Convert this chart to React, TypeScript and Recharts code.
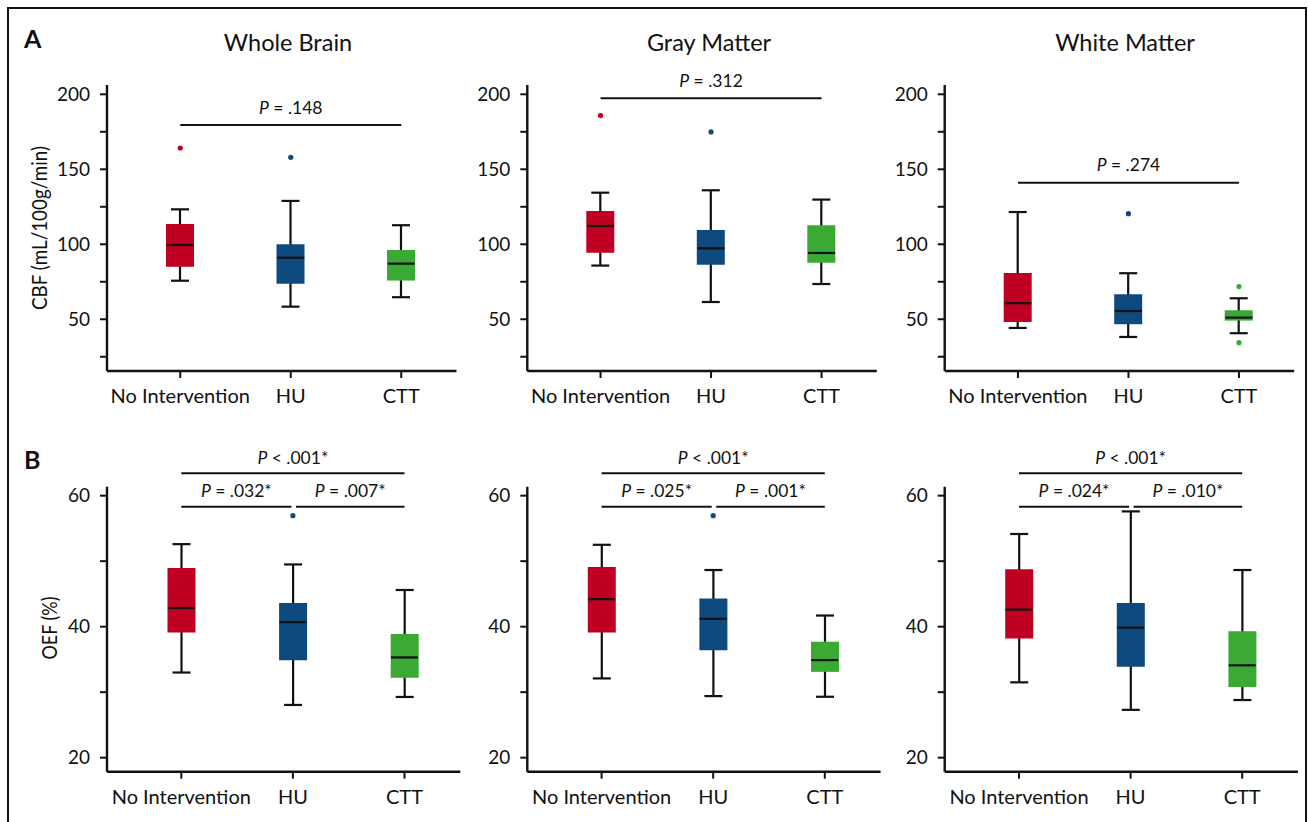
import React from 'react';
import { ComposedChart, Bar, Cell, Scatter, XAxis, YAxis, ReferenceLine } from 'recharts';

const groups = ['No Intervention', 'HU', 'CTT'];
const colors = ['#C00022', '#0E4A7E', '#3BAA35'];

// each row: [whisker low, q1, median, q3, whisker high]
const cbfWhole = [[75.7, 85, 99.5, 113.5, 123.3], [58.4, 73.7, 91, 100, 128.9], [64.7, 75.8, 87.1, 96.2, 112.7]];
const cbfGray = [[85.8, 94.4, 112.2, 122.2, 134.4], [61.5, 86.4, 97.3, 109.5, 136], [73.5, 87.7, 94.2, 112.7, 129.8]];
const cbfWhite = [[44.2, 48.2, 60.7, 80.9, 121.5], [38.2, 46.7, 55.5, 66.7, 80.7], [40.7, 49.1, 51.1, 56, 64]];
const cbfOutWhole = [[164.2], [158], []];
const cbfOutGray = [[185.8], [174.9], []];
const cbfOutWhite = [[], [120.4], [71.8, 34.4]];

const oefWhole = [[33.0, 39.1, 42.85, 48.96, 52.6], [28.05, 34.87, 40.7, 43.6, 49.5], [29.27, 32.2, 35.3, 38.9, 45.6]];
const oefGray = [[32.1, 39.1, 44.2, 49.1, 52.5], [29.4, 36.4, 41.2, 44.3, 48.65], [29.3, 33.1, 34.9, 37.7, 41.7]];
const oefWhite = [[31.5, 38.2, 42.6, 48.76, 54.15], [27.3, 33.9, 39.85, 43.6, 57.6], [28.8, 30.8, 34.1, 39.3, 48.65]];
const oefOutWhole = [[], [56.95], []];
const oefOutGray = [[], [56.95], []];
const oefOutWhite = [[], [], []];

const cbfTicks = [25, 50, 75, 100, 125, 150, 175, 200];
const oefTicks = [20, 30, 40, 50, 60];

type Bracket = { from: number; to: number; y: number; text: string; trimStart?: number; trimEnd?: number };

const cbfWholeP: Bracket[] = [{ from: 0, to: 2, y: 179.5, text: '= .148' }];
const cbfGrayP: Bracket[] = [{ from: 0, to: 2, y: 197.3, text: '= .312' }];
const cbfWhiteP: Bracket[] = [{ from: 0, to: 2, y: 141.1, text: '= .274' }];
const oefWholeP: Bracket[] = [
  { from: 0, to: 2, y: 63.42, text: '< .001*' },
  { from: 0, to: 1, y: 58.32, text: '= .032*', trimEnd: 1.5 },
  { from: 1, to: 2, y: 58.32, text: '= .007*', trimStart: 3 },
];
const oefGrayP: Bracket[] = [
  { from: 0, to: 2, y: 63.42, text: '< .001*' },
  { from: 0, to: 1, y: 58.32, text: '= .025*', trimEnd: 1.5 },
  { from: 1, to: 2, y: 58.32, text: '= .001*', trimStart: 3 },
];
const oefWhiteP: Bracket[] = [
  { from: 0, to: 2, y: 63.42, text: '< .001*' },
  { from: 0, to: 1, y: 58.32, text: '= .024*', trimEnd: 1.5 },
  { from: 1, to: 2, y: 58.32, text: '= .010*', trimStart: 3 },
];

const INK = '#111';
const FONT = 'Lato, "Noto Sans", sans-serif';

const WhiskerShape = (p: any) => {
  const top = Math.min(p.y, p.y + p.height);
  const bot = Math.max(p.y, p.y + p.height);
  const cx = p.x + p.width / 2;
  return (
    <g stroke={INK} strokeWidth={2.2}>
      <line x1={cx} x2={cx} y1={top} y2={bot} />
      <line x1={p.x} x2={p.x + p.width} y1={top} y2={top} />
      <line x1={p.x} x2={p.x + p.width} y1={bot} y2={bot} />
    </g>
  );
};

const MedianShape = (p: any) => (
  <line x1={p.cx - 13.5} x2={p.cx + 13.5} y1={p.cy} y2={p.cy} stroke={INK} strokeWidth={2.2} />
);

const OutlierShape = (p: any) => <circle cx={p.cx} cy={p.cy} r={2.6} fill={colors[p.payload.g]} />;

const BracketShape = (p: any) => {
  const x1 = Math.min(p.x1, p.x2) + (p.b.trimStart ?? 0);
  const x2 = Math.max(p.x1, p.x2) - (p.b.trimEnd ?? 0);
  const y = p.y1;
  return (
    <g>
      <line x1={x1} x2={x2} y1={y} y2={y} stroke={INK} strokeWidth={2} />
      <text x={(x1 + x2) / 2} y={y - p.gap} textAnchor="middle" fontFamily={FONT} fontSize={17.5} fill={INK}>
        <tspan fontStyle="italic">P</tspan> {p.b.text}
      </text>
    </g>
  );
};

type PanelProps = {
  left: number;
  top: number;
  plotLeft: number;
  plotTop: number;
  plotW: number;
  plotH: number;
  padLeft: number;
  domain: [number, number];
  ticks: number[];
  major: number;
  stats: number[][];
  outliers: number[][];
  brackets: Bracket[];
  labelGap: number;
};

function Panel(p: PanelProps) {
  const rows = p.stats.map((s, i) => ({ name: groups[i], g: i, whisker: [s[0], s[4]], box: [s[1], s[3]], med: s[2] }));
  const outRows = p.outliers.flatMap((vals, i) => vals.map((v) => ({ name: groups[i], g: i, out: v })));
  const yAxisW = p.plotLeft - p.left;
  const marginTop = p.plotTop - p.top;
  const width = yAxisW + p.plotW + 12;
  const height = marginTop + p.plotH + 50;
  const xProps = {
    dataKey: 'name',
    type: 'category' as const,
    allowDuplicatedCategory: false,
    padding: { left: p.padLeft, right: 0 },
  };

  return (
    <div style={{ position: 'absolute', left: p.left, top: p.top }}>
      <ComposedChart width={width} height={height} data={rows} margin={{ top: marginTop, right: 12, bottom: 5, left: 0 }}>
        <XAxis
          xAxisId="main"
          {...xProps}
          height={45}
          interval={0}
          tickSize={7}
          tickMargin={11}
          axisLine={{ stroke: INK, strokeWidth: 2.4 }}
          tickLine={{ stroke: INK, strokeWidth: 2 }}
          tick={{ fill: INK, fontSize: 20, fontFamily: FONT }}
        />
        <XAxis xAxisId="w" {...xProps} orientation="top" height={0} hide />
        <XAxis xAxisId="b" {...xProps} orientation="top" height={0} hide />
        <YAxis
          width={yAxisW}
          type="number"
          domain={p.domain}
          ticks={p.ticks}
          interval={0}
          tickSize={7}
          tickMargin={10}
          tickFormatter={(v: number) => (v % p.major === 0 ? String(v) : '')}
          axisLine={{ stroke: INK, strokeWidth: 2.4 }}
          tickLine={{ stroke: INK, strokeWidth: 2 }}
          tick={{ fill: INK, fontSize: 19, fontFamily: FONT }}
        />
        <Bar xAxisId="w" dataKey="whisker" barSize={18} shape={WhiskerShape} isAnimationActive={false} />
        <Bar xAxisId="b" dataKey="box" barSize={28} isAnimationActive={false}>
          {rows.map((r) => (
            <Cell key={r.name} fill={colors[r.g]} />
          ))}
        </Bar>
        <Scatter xAxisId="main" dataKey="med" shape={MedianShape} isAnimationActive={false} />
        {outRows.length > 0 && (
          <Scatter xAxisId="main" data={outRows} dataKey="out" shape={OutlierShape} isAnimationActive={false} />
        )}
        {p.brackets.map((b, i) => (
          <ReferenceLine
            key={i}
            xAxisId="main"
            ifOverflow="visible"
            segment={[
              { x: groups[b.from], y: b.y },
              { x: groups[b.to], y: b.y },
            ]}
            shape={(lp: any) => <BracketShape {...lp} b={b} gap={p.labelGap} />}
          />
        ))}
      </ComposedChart>
    </div>
  );
}

const topRow = { top: 60, plotTop: 85, plotH: 286, plotW: 349.5, padLeft: 18, domain: [15.5, 206.2] as [number, number], ticks: cbfTicks, major: 50, labelGap: 11.5 };
const bottomRow = { top: 430, plotTop: 486.7, plotH: 285, plotW: 353.3, padLeft: 18.5, domain: [17.86, 61.37] as [number, number], ticks: oefTicks, major: 20, labelGap: 9.5 };

export default function App() {
  return (
    <div style={{ position: 'absolute', left: 0, top: 0, width: 1308, height: 822, overflow: 'hidden', background: '#fff', fontFamily: FONT }}>
      <div
        style={{
          position: 'absolute',
          left: 7,
          top: 7,
          width: 1300,
          height: 815,
          boxSizing: 'border-box',
          borderTop: `2px solid ${INK}`,
          borderLeft: `2px solid ${INK}`,
          borderRight: `2px solid ${INK}`,
        }}
      />
      <Panel {...topRow} left={10} plotLeft={107} stats={cbfWhole} outliers={cbfOutWhole} brackets={cbfWholeP} />
      <Panel {...topRow} left={440} plotLeft={527.3} stats={cbfGray} outliers={cbfOutGray} brackets={cbfGrayP} />
      <Panel {...topRow} left={860} plotLeft={944.7} stats={cbfWhite} outliers={cbfOutWhite} brackets={cbfWhiteP} />
      <Panel {...bottomRow} left={10} plotLeft={107} stats={oefWhole} outliers={oefOutWhole} brackets={oefWholeP} />
      <Panel {...bottomRow} left={440} plotLeft={527.3} stats={oefGray} outliers={oefOutGray} brackets={oefGrayP} />
      <Panel {...bottomRow} left={860} plotLeft={944.7} stats={oefWhite} outliers={oefOutWhite} brackets={oefWhiteP} />
      <svg width={1308} height={822} style={{ position: 'absolute', left: 0, top: 0, pointerEvents: 'none' }}>
        <g fontFamily={FONT} fill={INK}>
          <text x={24} y={48} fontSize={25} fontWeight={700}>A</text>
          <text x={24} y={469} fontSize={25} fontWeight={700}>B</text>
          <text x={288} y={51} fontSize={23.5} textAnchor="middle">Whole Brain</text>
          <text x={709} y={51} fontSize={23.5} textAnchor="middle">Gray Matter</text>
          <text x={1125} y={51} fontSize={23.5} textAnchor="middle">White Matter</text>
          <text transform="translate(46.5,228) rotate(-90)" fontSize={21} textAnchor="middle" textLength={164} lengthAdjust="spacingAndGlyphs">
            CBF (mL/100g/min)
          </text>
          <text transform="translate(56.5,628) rotate(-90)" fontSize={21} textAnchor="middle" textLength={63} lengthAdjust="spacingAndGlyphs">
            OEF (%)
          </text>
        </g>
      </svg>
    </div>
  );
}
